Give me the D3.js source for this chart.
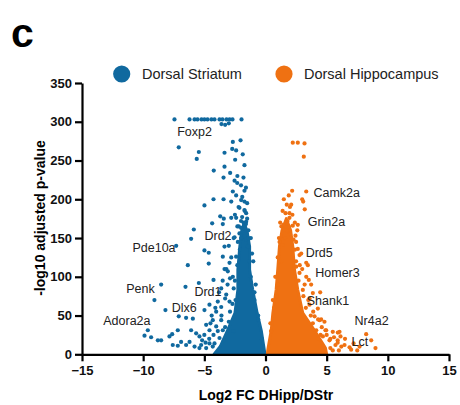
<!DOCTYPE html>
<html>
<head>
<meta charset="utf-8">
<script src="https://cdn.jsdelivr.net/npm/d3@7"></script>
<style>
body { margin: 0; background: #fff; }
text { font-family: "Liberation Sans", Arial, sans-serif; }
</style>
</head>
<body>
<div id="chart"></div>
<script>
// series names + colours
const seriesNames = ['Dorsal Striatum', 'Dorsal Hippocampus'];
const seriesColors = ['#10699f', '#ef7112'];

// axis ticks
const xTicks = [-15, -10, -5, 0, 5, 10, 15];
const yTicks = [0, 50, 100, 150, 200, 250, 300, 350];

// dense core of each cloud, outline [log2FC, -log10 p]
const striatumCore = [
  [-4.2,0],[-3.7,10],[-3.1,31],[-2.5,53],[-2.26,83],[-2.26,109],[-2.1,139],[-1.95,158],
  [-1.75,170],[-1.5,158],[-1.3,139],[-1.3,109],[-1.04,83],[-0.68,53],[-0.35,31],[-0.1,6],[-0.05,0]
];
const hippoCore = [
  [0.15,0],[0.19,6],[0.47,31],[0.6,53],[0.87,83],[1.0,109],[1.14,139],[1.35,160],
  [1.7,175],[2.05,160],[2.23,139],[2.37,109],[2.64,83],[3.05,53],[4.0,31],[4.9,8],[5.0,0]
];

// scattered points outside the core
const striatumPts = [
  [-7.44,303],[-6.21,303],[-5.8,303],[-5.56,303],[-5.23,303],[-4.99,303],[-4.74,303],[-4.42,303],
  [-4.17,303],[-3.76,303],[-3.52,303],[-3.19,303],[-2.94,303],[-2.7,303],[-1.96,303],
  [-3.6,297],[-3.3,296],[-3.0,298],
  [-7.09,267],[-5.45,261],[-5.62,252],[-3.35,260],[-2.67,274],[-2.04,276],[-2.72,265],[-2.40,263],
  [-1.86,258],[-2.48,251],[-1.72,244],[-4.23,237],[-3.35,242],[-2.89,234],[-3.43,228],[-2.53,224],
  [-2.31,221],[-2.67,210],[-1.72,211],[-4.25,200],[-3.43,200],[-2.80,197],[-1.99,199],[-1.72,197],
  [-4.99,192],[-2.13,189],[-1.72,186],[-1.58,182],[-3.70,178],[-3.41,175],[-2.80,176],[-2.40,176],
  [-1.91,177],[-1.58,171],[-4.36,169],[-3.49,168],[-2.18,165],[-5.86,161],[-1.99,163],[-6.08,149],
  [-2.13,156],[-1.72,152],[-1.58,148],[-2.26,145],[-7.30,140],[-3.35,139],[-2.53,151],[-1.45,139],
  [-4.99,134],[-4.64,131],[-6.35,115],[-4.64,117],[-3.49,126],[-3.35,110],[-3.08,107],
  [-8.53,90],[-6.54,87],[-5.45,92],[-4.25,96],[-9.08,70],[-8.18,57],[-7.09,49],[-6.49,47],
  [-5.94,46],[-4.99,57],[-4.58,64],[-3.90,68],[-3.62,61],[-9.62,31],[-9.89,24],[-9.35,22],
  [-8.80,18],[-8.53,18],[-7.85,23],[-7.63,26],[-7.17,31],[-6.90,16],[-6.49,12],[-6.08,31],
  [-5.67,27],[-5.18,18],[-4.85,38],[-4.58,31],[-4.25,25],[-4.03,36],[-7.17,11],[-7.58,12],
  [-5.80,10],[-4.85,8],
  [-2.40,126],[-2.94,118],[-2.67,100],[-3.62,85],[-3.21,77],[-2.94,68],[-4.03,55],[-4.31,44],
  [-3.62,44],[-3.49,31],[-3.76,21],[-4.17,14],[-5.40,23],[-5.26,12],[-6.21,16],[-4.31,10],
  [-4.58,14],[-3.1,90],[-2.9,55],[-3.3,35],[-2.6,85],[-2.3,115],[-2.0,150],[-1.4,160],
  [-1.3,120],[-0.9,80],[-0.6,50],[-2.1,135],[-1.8,170],[-1.5,175],
  [-2.3,230],[-1.8,228],[-2.0,218],[-1.6,215],[-2.4,205],[-1.9,203],[-1.5,195],[-2.2,190],
  [-1.7,185],[-2.5,180],[-2.0,172],[-1.6,168],[-2.3,165],[-1.9,158],[-2.6,150],[-1.4,150],
  [-3.0,140],[-2.8,125],[-3.2,110],[-2.9,98],[-3.5,95],[-3.8,80],[-3.3,72],[-2.7,65],
  [-4.1,60],[-3.6,50],[-3.0,42],[-4.4,50],[-4.5,40],[-3.9,30],[-4.6,20],[-5.0,25],
  [-5.4,8],[-4.9,15],[-3.4,18],[-2.6,30],[-2.45,70],[-2.5,95],
  [-1.2,100],[-0.9,70],[-0.6,45],[-0.3,20],[-1.1,130],[-1.0,120],[-0.8,90],[-1.2,150]
];
const hippoPts = [
  [2.23,273],[2.64,273],[3.19,272],[3.13,255],[2.18,211],[3.33,210],[3.0,200],[3.08,197],
  [3.21,187],[1.74,193],[2.10,193],[1.96,182],[1.64,182],[1.96,176],[1.47,167],[1.91,165],
  [2.23,166],[2.64,167],[1.55,161],[2.45,153],[2.29,148],[1.41,141],[2.64,136],[2.78,128],
  [3.46,115],
  [4.47,80],[3.60,64],[3.54,96],[3.73,90],[3.33,100],[3.33,118],[2.92,130],[4.28,59],
  [4.55,45],[4.82,42],[4.96,31],[5.50,29],[5.91,28],[6.13,23],[6.46,12],[6.87,9],
  [7.69,10],[8.23,26],[8.64,18],[8.99,8],[5.23,18],[5.72,12],[4.69,23],[4.15,31],
  [4.01,49],[3.87,40],[4.42,44],[4.9,31],[6.05,29],
  [3.87,79],[3.6,72],[3.05,83],[2.78,105],[2.51,113],[1.6,150],[1.3,120],[1.0,90],
  [0.7,60],[0.45,30],[2.5,120],[3.1,75],[5.3,8],[5.9,15],[7.2,14],[4.3,20],[2.0,155],[1.8,172],
  [1.5,200],[1.9,205],[1.4,185],[2.2,180],[1.2,170],[1.7,160],[2.4,170],[1.1,150],
  [2.5,145],[2.6,160],[1.0,125],[2.8,115],[3.0,110],[0.8,100],[3.2,90],[0.6,70],
  [3.5,70],[3.9,55],[0.4,40],[4.3,45],[4.6,35],[5.0,25],[5.3,20],[5.6,22],
  [5.9,18],[6.2,10],[6.5,20],[7.0,6],[7.5,5],[5.5,5],[6.0,5],[4.5,25],[3.7,50],[2.0,190],
  [1.3,165],[2.4,135],[1.15,145],[2.7,95],[3.3,60],[0.9,75]
];

// gene labels: [name, log2FC, -log10 p, anchor]
const geneLabels = [
  ['Foxp2', -7.22, 287.5, 'start'],
  ['Drd2', -4.99, 153, 'start'],
  ['Pde10a', -7.35, 138, 'end'],
  ['Penk', -9.05, 85, 'end'],
  ['Drd1', -5.81, 81, 'start'],
  ['Dlx6', -7.66, 61, 'start'],
  ['Adora2a', -9.4, 44, 'end'],
  ['Camk2a', 3.92, 209, 'start'],
  ['Grin2a', 3.45, 171, 'start'],
  ['Drd5', 3.28, 131, 'start'],
  ['Homer3', 4.07, 106, 'start'],
  ['Shank1', 3.37, 69, 'start'],
  ['Nr4a2', 7.28, 44, 'start'],
  ['Lct', 7.03, 17, 'start']
];

const width = 460, height = 405;
const svg = d3.select('#chart').append('svg')
  .attr('width', width).attr('height', height);

const x = d3.scaleLinear().domain([-15, 15]).range([82, 449]);
const y = d3.scaleLinear().domain([0, 350]).range([354.3, 83]);

// panel letter
svg.append('text').attr('x', 11).attr('y', 46.5)
  .attr('font-size', 41).attr('font-weight', 'bold').text('c');

// legend
const leg = [[121.7, 142], [284, 304]];
leg.forEach((p, i) => {
  svg.append('circle').attr('cx', p[0]).attr('cy', 74).attr('r', 8.6)
    .attr('fill', seriesColors[i]);
  svg.append('text').attr('x', p[1]).attr('y', 74).attr('dy', '0.36em')
    .attr('font-size', 14.5).attr('fill', '#222').text(seriesNames[i]);
});

// clouds
const line = d3.line().x(d => x(d[0])).y(d => y(d[1]));
[striatumCore, hippoCore].forEach((c, i) => {
  svg.append('path').attr('d', line(c) + 'Z')
    .attr('fill', seriesColors[i]).attr('stroke', seriesColors[i]).attr('stroke-width', 3)
    .attr('stroke-linejoin', 'round');
});
[striatumPts, hippoPts].forEach((pts, i) => {
  svg.append('g').selectAll('circle').data(pts).enter().append('circle')
    .attr('cx', d => x(d[0])).attr('cy', d => y(d[1])).attr('r', 2.1)
    .attr('fill', seriesColors[i]);
});

// axes
const xAxis = svg.append('g').attr('transform', 'translate(0,354.3)')
  .call(d3.axisBottom(x).tickValues(xTicks).tickSize(7).tickSizeOuter(0).tickPadding(4));
const yAxis = svg.append('g').attr('transform', 'translate(82,0)')
  .call(d3.axisLeft(y).tickValues(yTicks).tickSize(7).tickSizeOuter(0).tickPadding(3));
[xAxis, yAxis].forEach(a => {
  a.select('.domain').attr('stroke', '#000').attr('stroke-width', 2.2);
  a.selectAll('.tick line').attr('stroke', '#000').attr('stroke-width', 2.2);
  a.selectAll('.tick text').attr('font-family', '"Liberation Sans", Arial, sans-serif')
    .attr('font-size', 13).attr('font-weight', 'bold').attr('fill', '#111');
});

// axis titles
svg.append('text').attr('x', 266).attr('y', 400).attr('text-anchor', 'middle')
  .attr('font-size', 14).attr('font-weight', 'bold').text('Log2 FC DHipp/DStr');
svg.append('text').attr('transform', 'translate(45,218) rotate(-90)')
  .attr('text-anchor', 'middle').attr('font-size', 14).attr('font-weight', 'bold')
  .text('-log10 adjusted p-value');

// gene labels
svg.append('g').selectAll('text').data(geneLabels).enter().append('text')
  .attr('x', d => x(d[1])).attr('y', d => y(d[2])).attr('dy', '0.36em')
  .attr('text-anchor', d => d[3]).attr('font-size', 12.5).attr('fill', '#222')
  .text(d => d[0]);
</script>
</body>
</html>
